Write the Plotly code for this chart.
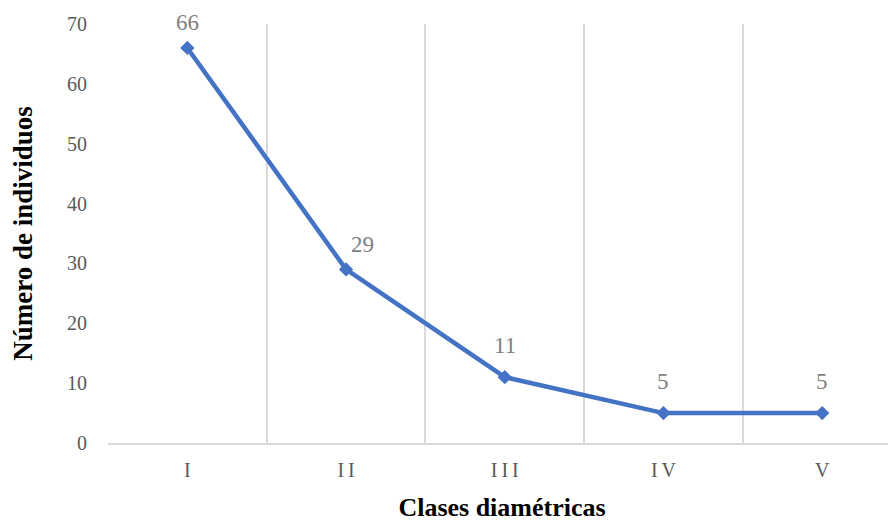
import plotly.graph_objects as go

categories = ["I", "I\u2009I", "I\u2009I\u2009I", "I\u2009V", "V"]
values = [66, 29, 11, 5, 5]
label_xshift = [0, 16, 0, 0, 0]
label_yshift = [25, 25, 32, 32, 32]
y_ticks = [0, 10, 20, 30, 40, 50, 60, 70]

blue = "#4472C4"
serif = "Liberation Serif, Times New Roman, serif"

fig = go.Figure()
fig.add_trace(go.Scatter(
    x=categories, y=values, mode="lines+markers",
    line=dict(color=blue, width=4.5),
    marker=dict(symbol="diamond", size=11, color=blue),
    cliponaxis=False, showlegend=False,
))

for c, v, xs, ys in zip(categories, values, label_xshift, label_yshift):
    fig.add_annotation(x=c, y=v, text=str(v), showarrow=False,
                       xshift=xs, yshift=ys, borderpad=0,
                       font=dict(family=serif, size=23, color="#7f7f7f"))

fig.update_layout(
    width=888, height=515,
    margin=dict(l=100, r=0, t=16, b=80, autoexpand=False),
    paper_bgcolor="white", plot_bgcolor="white",
    font=dict(family=serif, color="#595959"),
    xaxis=dict(
        type="category", range=[-0.5, 4.465], automargin=False,
        tickson="boundaries", showgrid=True, gridcolor="#d9d9d9", gridwidth=1.5,
        showline=True, linecolor="#d9d9d9", linewidth=2,
        ticks="", ticklabelstandoff=8,
        tickfont=dict(family=serif, size=20, color="#595959"),
        title=dict(text="<b>Clases diamétricas</b>", standoff=18,
                   font=dict(family=serif, size=26, color="black")),
        zeroline=False,
    ),
    yaxis=dict(
        range=[0, 70], tickvals=y_ticks, showgrid=False, zeroline=False,
        showline=False, ticks="", ticklabelstandoff=20, automargin=False,
        tickfont=dict(family=serif, size=20, color="#595959"),
        title=dict(text="<b>Número de individuos</b>", standoff=32,
                   font=dict(family=serif, size=27, color="black")),
    ),
)

fig.write_html("out.html")
